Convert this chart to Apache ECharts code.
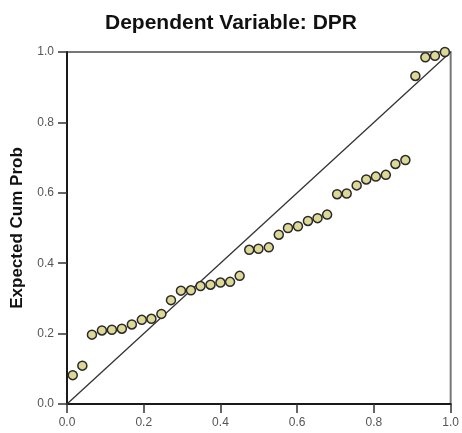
<!DOCTYPE html>
<html lang="en">
<head>
    <meta charset="UTF-8">
    <title>Dependent Variable: DPR</title>
    <script type="text/javascript" src="https://cdn.jsdelivr.net/npm/echarts@6/dist/echarts.min.js"></script>
    <style>
        html, body { margin: 0; padding: 0; background: #fff; }
    </style>
</head>
<body>
<div id="main" style="width:462px;height:433px;"></div>
<script type="text/javascript">
    var observed = [0.015, 0.040, 0.065, 0.091, 0.117, 0.143, 0.169, 0.195, 0.220, 0.246,
                    0.271, 0.297, 0.323, 0.348, 0.374, 0.400, 0.425, 0.450, 0.475, 0.499,
                    0.526, 0.552, 0.576, 0.602, 0.628, 0.653, 0.678, 0.704, 0.729, 0.755,
                    0.780, 0.805, 0.831, 0.856, 0.882, 0.908, 0.934, 0.959, 0.985];
    var expected = [0.082, 0.109, 0.197, 0.209, 0.211, 0.214, 0.226, 0.239, 0.242, 0.256,
                    0.295, 0.322, 0.323, 0.335, 0.339, 0.345, 0.347, 0.364, 0.438, 0.441,
                    0.445, 0.481, 0.500, 0.505, 0.520, 0.528, 0.538, 0.596, 0.598, 0.621,
                    0.638, 0.646, 0.651, 0.682, 0.693, 0.932, 0.985, 0.989, 1.000];
    var refLine = [[0, 0], [1, 1]];
    var tickValues = [0.0, 0.2, 0.4, 0.6, 0.8, 1.0];

    var points = [];
    for (var i = 0; i < observed.length; i++) {
        points.push([observed[i], expected[i]]);
    }

    var font = 'Liberation Sans, Arial, sans-serif';
    var axisCommon = {
        type: 'value',
        min: tickValues[0],
        max: tickValues[tickValues.length - 1],
        interval: 0.2,
        splitLine: { show: false },
        axisLine: { show: true, lineStyle: { color: '#1a1a1a', width: 2 } },
        axisTick: { show: true, inside: false, length: 9, lineStyle: { color: '#333', width: 1.5 } },
        axisLabel: {
            color: '#555', fontSize: 12, fontFamily: font, margin: 13,
            formatter: function (v) { return v.toFixed(1); }
        }
    };

    var myChart = echarts.init(document.getElementById('main'));
    var option = {
        animation: false,
        backgroundColor: '#fff',
        title: {
            text: 'Dependent Variable: DPR',
            left: 'center',
            top: 8,
            textStyle: { fontFamily: font, fontSize: 21, fontWeight: 'bold', color: '#111' }
        },
        grid: {
            left: 67, right: 8, top: 52, bottom: 29,
            show: true, borderColor: '#777', borderWidth: 2, backgroundColor: '#fff'
        },
        xAxis: Object.assign({}, axisCommon),
        yAxis: Object.assign({}, axisCommon, {
            name: 'Expected Cum Prob',
            nameLocation: 'middle',
            nameGap: 41,
            nameTextStyle: { fontFamily: font, fontSize: 17, fontWeight: 'bold', color: '#111' }
        }),
        series: [{
            type: 'line',
            data: refLine,
            symbol: 'none',
            lineStyle: { color: '#333', width: 1.3 },
            z: 2
        }, {
            type: 'scatter',
            data: points,
            symbol: 'circle',
            symbolSize: 9,
            itemStyle: { color: '#ddd895', borderColor: '#2a2a2a', borderWidth: 1.5, opacity: 1 },
            z: 3
        }]
    };
    myChart.setOption(option);
</script>
</body>
</html>
